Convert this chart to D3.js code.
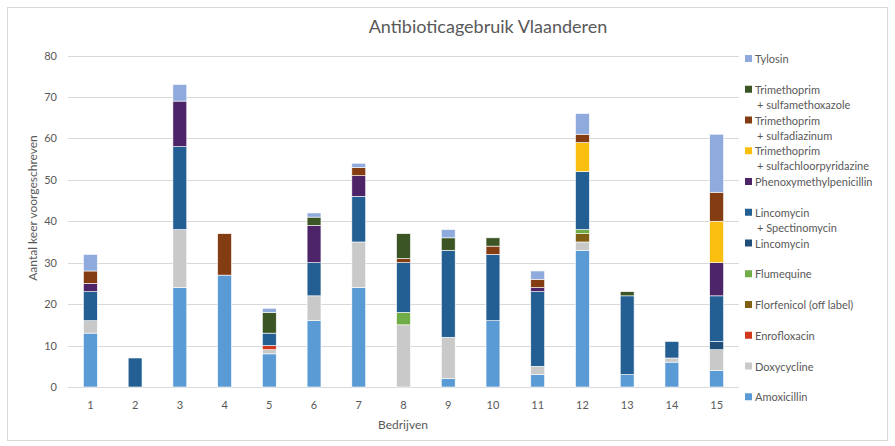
<!DOCTYPE html>
<html>
<head>
<meta charset="utf-8">
<script src="https://cdn.jsdelivr.net/npm/d3@7"></script>
<style>
  body { margin: 0; background: #fff; }
  svg { font-family: Lato, "Open Sans", sans-serif; }
  .grid line { stroke: #d9d9d9; }
  .tick text { fill: #595959; }
</style>
</head>
<body>
<svg width="895" height="446"></svg>
<script>
const bedrijven = ["1","2","3","4","5","6","7","8","9","10","11","12","13","14","15"];

// stacking order bottom -> top
const reeksen = [
  "Amoxicillin", "Doxycycline", "Enrofloxacin", "Florfenicol (off label)", "Flumequine",
  "Lincomycin", "Lincomycin\n+ Spectinomycin", "Phenoxymethylpenicillin",
  "Trimethoprim\n+ sulfachloorpyridazine", "Trimethoprim\n+ sulfadiazinum",
  "Trimethoprim\n+ sulfamethoxazole", "Tylosin"
];

const amoxicillin   = [13, 0, 24, 27, 8, 16, 24, 0, 2, 16, 3, 33, 3, 6, 4];
const doxycycline   = [3, 0, 14, 0, 1, 6, 11, 15, 10, 0, 2, 2, 0, 1, 5];
const enrofloxacin  = [0, 0, 0, 0, 1, 0, 0, 0, 0, 0, 0, 0, 0, 0, 0];
const florfenicol   = [0, 0, 0, 0, 0, 0, 0, 0, 0, 0, 0, 2, 0, 0, 0];
const flumequine    = [0, 0, 0, 0, 0, 0, 0, 3, 0, 0, 0, 1, 0, 0, 0];
const lincomycin    = [0, 0, 0, 0, 0, 0, 0, 0, 0, 0, 0, 0, 0, 0, 2];
const lincoSpectino = [7, 7, 20, 0, 3, 8, 11, 12, 21, 16, 18, 14, 19, 4, 11];
const phenoxymethyl = [2, 0, 11, 0, 0, 9, 5, 0, 0, 0, 1, 0, 0, 0, 8];
const tmpSulfachl   = [0, 0, 0, 0, 0, 0, 0, 0, 0, 0, 0, 7, 0, 0, 10];
const tmpSulfadiaz  = [3, 0, 0, 10, 0, 0, 2, 1, 0, 2, 2, 2, 0, 0, 7];
const tmpSulfameth  = [0, 0, 0, 0, 5, 2, 0, 6, 3, 2, 0, 0, 1, 0, 0];
const tylosin       = [4, 0, 4, 0, 1, 1, 1, 0, 2, 0, 2, 5, 0, 0, 14];

const waarden = [amoxicillin, doxycycline, enrofloxacin, florfenicol, flumequine,
  lincomycin, lincoSpectino, phenoxymethyl, tmpSulfachl, tmpSulfadiaz, tmpSulfameth, tylosin];

const kleuren = ["#5b9bd5", "#c9c9c9", "#d0391e", "#7f6014", "#70ad47",
  "#1f4e79", "#245f93", "#4d2468", "#fbbf10", "#843c12", "#3b5524", "#8faadc"];

const yTicks = [0, 10, 20, 30, 40, 50, 60, 70, 80];

const svg = d3.select("svg");

// table for d3.stack
const rows = bedrijven.map((b, i) => {
  const r = { bedrijf: b };
  reeksen.forEach((s, j) => r[s] = waarden[j][i]);
  return r;
});
const series = d3.stack().keys(reeksen)(rows);

const x = d3.scaleBand().domain(bedrijven).range([68, 739]).paddingInner(0.69).paddingOuter(0.345);
const y = d3.scaleLinear().domain([0, 80]).range([387, 55.5]);

// chart border
svg.append("rect")
  .attr("x", 7.5).attr("y", 7.5).attr("width", 880).attr("height", 433)
  .attr("fill", "none").attr("stroke", "#d9d9d9");

// gridlines
svg.append("g").attr("class", "grid")
  .selectAll("line")
  .data(yTicks)
  .join("line")
  .attr("x1", 68).attr("x2", 739)
  .attr("y1", d => Math.round(y(d)) + 0.5)
  .attr("y2", d => Math.round(y(d)) + 0.5);

// y axis labels
const yAxis = svg.append("g")
  .attr("transform", "translate(66,0)")
  .call(d3.axisLeft(y).tickValues(yTicks).tickSize(0).tickPadding(9));
yAxis.select(".domain").remove();
yAxis.selectAll("text").attr("font-size", 11).attr("font-family", "Lato, sans-serif");

// x axis labels
const xAxis = svg.append("g")
  .attr("transform", "translate(0,387)")
  .call(d3.axisBottom(x).tickSize(0).tickPadding(14));
xAxis.select(".domain").remove();
xAxis.selectAll("text").attr("font-size", 11).attr("font-family", "Lato, sans-serif");

// bars
svg.append("g")
  .selectAll("g")
  .data(series)
  .join("g")
  .attr("fill", (d, i) => kleuren[i])
  .selectAll("rect")
  .data(d => d.filter(p => p[1] - p[0] > 0))
  .join("rect")
  .attr("x", d => x(d.data.bedrijf))
  .attr("width", x.bandwidth())
  .attr("y", d => y(d[1]))
  .attr("height", d => y(d[0]) - y(d[1]))
  .attr("stroke", "#fff")
  .attr("stroke-width", 0.6);

// title
svg.append("text")
  .attr("x", 488).attr("y", 33)
  .attr("text-anchor", "middle")
  .attr("font-size", 18)
  .attr("fill", "#595959")
  .text("Antibioticagebruik Vlaanderen");

// axis titles
svg.append("text")
  .attr("transform", "translate(37,208) rotate(-90)")
  .attr("text-anchor", "middle")
  .attr("font-size", 12)
  .attr("fill", "#595959")
  .text("Aantal keer voorgeschreven");

svg.append("text")
  .attr("x", 403).attr("y", 429)
  .attr("text-anchor", "middle")
  .attr("font-size", 12)
  .attr("fill", "#595959")
  .text("Bedrijven");

// legend (reverse order, Tylosin on top)
const legendItems = reeksen.map((s, i) => ({ naam: s, kleur: kleuren[i] })).reverse();
const legend = svg.append("g")
  .selectAll("g")
  .data(legendItems)
  .join("g")
  .attr("transform", (d, i) => `translate(745,${59 + i * 30.75})`);

legend.append("rect")
  .attr("x", 0).attr("y", -4)
  .attr("width", 7).attr("height", 7)
  .attr("fill", d => d.kleur);

legend.append("text")
  .attr("font-size", 11)
  .attr("fill", "#595959")
  .selectAll("tspan")
  .data(d => d.naam.split("\n"))
  .join("tspan")
  .attr("x", (d, i) => i === 0 ? 10 : 12)
  .attr("y", (d, i) => 4 + i * 15)
  .text(d => d);
</script>
</body>
</html>
